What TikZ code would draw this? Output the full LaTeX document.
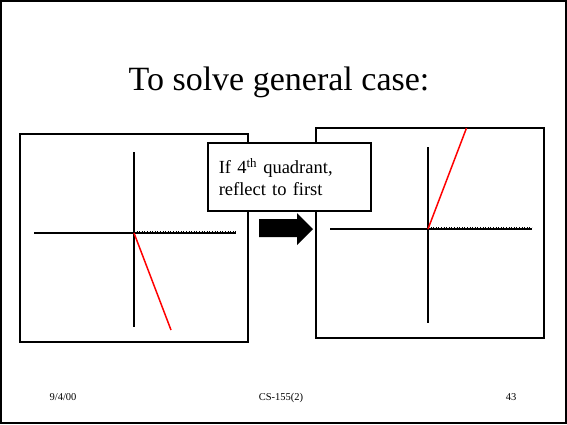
\documentclass[tikz,border=0pt]{standalone}
\usepackage{fontspec}
\setmainfont{Liberation Serif}
\usetikzlibrary{calc}

\begin{document}
\begin{tikzpicture}[x=1pt,y=-1pt,inner sep=0pt,
  frame/.style={draw,line width=1.6pt},
  axis/.style={line width=1.6pt},
  ray/.style={red,line width=1.5pt},
  foot/.style={font=\fontsize{10.5}{12}\selectfont,anchor=base}]
\useasboundingbox (0,0) rectangle (567,424);
\draw[line width=1.2pt] (1,1) rectangle (566,423);
\node[font=\fontsize{34}{40}\selectfont,anchor=base] (title) at (279,90) {To solve general case:};

% before
\draw[frame] (20,134) rectangle (248,342);
\coordinate (o1) at (134,233);
\draw[axis] ($(o1)+(0,-81)$) -- ($(o1)+(0,94)$);
\draw[axis] ($(o1)+(-100,0)$) -- ($(o1)+(102,0)$);
\draw[dotted,line width=0.6pt] ($(o1)+(0,-1.8)$) -- ($(o1)+(102,-1.8)$);
\draw[ray] (o1) -- ($(o1)+(37,97)$);

% after
\draw[frame] (316,128) rectangle (544,338);
\coordinate (o2) at (428,229);
\draw[axis] ($(o2)+(0,-82)$) -- ($(o2)+(0,94)$);
\draw[axis] ($(o2)+(-98,0)$) -- ($(o2)+(104,0)$);
\draw[dotted,line width=0.6pt] ($(o2)+(0,-1.8)$) -- ($(o2)+(104,-1.8)$);
\draw[ray] (o2) -- ($(o2)+(38.5,-101)$);

\node[frame,fill=white,anchor=north west,minimum width=163pt,minimum height=68pt,
  inner xsep=11pt,text width=141pt,align=left,
  font=\fontsize{18.5}{22}\selectfont] (note) at (207,142)
  {If 4\textsuperscript{th} quadrant,\\reflect to first};

\fill (259,219) -- (297,219) -- (297,213) -- (313,229) -- (297,245) -- (297,237) -- (259,237) -- cycle;

\node[foot] (date) at (63,400) {9/4/00};
\node[foot] (course) at (281,400) {CS-155(2)};
\node[foot] (page) at (511,400) {43};
\end{tikzpicture}
\end{document}
